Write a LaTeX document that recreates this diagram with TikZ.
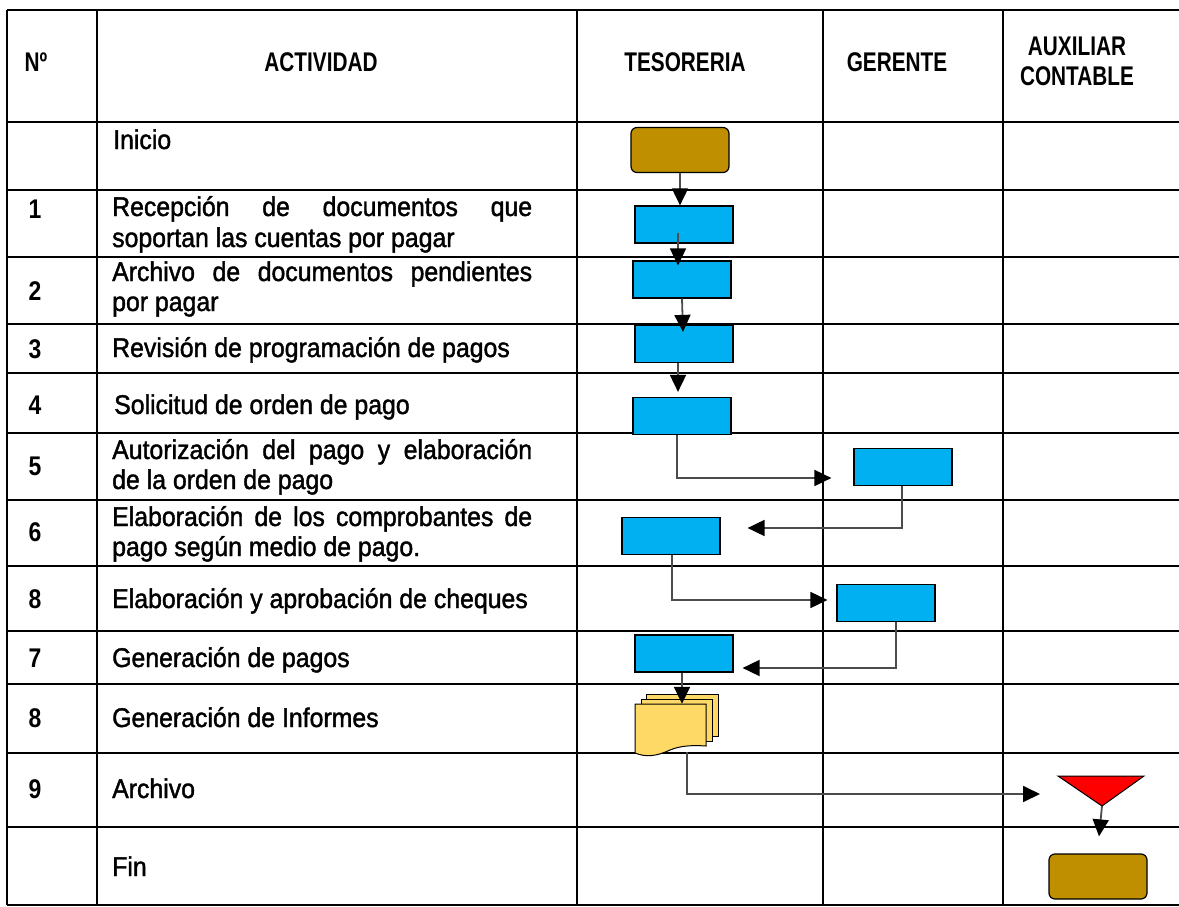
\documentclass[tikz,border=0pt]{standalone}
\usepackage{fontspec}
\setmainfont{Liberation Sans}
\newfontfamily\rowfont[FakeStretch=0.92,FakeBold=1.5]{Liberation Sans}
\newfontfamily\numfont[FakeStretch=0.85]{Liberation Sans}
\newfontfamily\headfont[FakeStretch=0.77]{Liberation Sans}
\usetikzlibrary{arrows.meta}
\definecolor{gold}{HTML}{BF8F00}
\definecolor{procblue}{HTML}{00B0F0}
\definecolor{docyellow}{HTML}{FFD966}
\definecolor{tred}{HTML}{FF0000}
\begin{document}
\begin{tikzpicture}[x=1pt,y=-1pt,
  grid/.style={line width=1.5pt, black},
  proc/.style={draw=black, line width=1.2pt, fill=procblue, minimum width=98pt, minimum height=37pt, inner sep=0pt, rectangle},
  term/.style={draw=black, line width=1.2pt, fill=gold, rounded corners=6pt, minimum width=98pt, minimum height=45pt, inner sep=0pt, rectangle},
  flow/.style={draw=black!70, line width=1.8pt, -{Triangle[length=17pt,width=16pt,color=black]}},
  hdr/.style={font=\headfont\bfseries\fontsize{27}{29}\selectfont, inner sep=0pt, anchor=base},
  txt/.style={font=\rowfont\fontsize{27}{31}\selectfont, inner sep=0pt, anchor=base west},
  num/.style={font=\numfont\bfseries\fontsize{27}{31}\selectfont, inner sep=0pt, anchor=base},
  sheet/.style={draw=black, line width=1pt, fill=docyellow}
]
\useasboundingbox (0,0) rectangle (1179,907);

% grid
\foreach \y in {10,122,190,257,324,373,433,500,566,631,684,753,827,905}
  \draw[grid] (7,\y) -- (1179,\y);
\foreach \x in {7,97,577,823,1003}
  \draw[grid] (\x,10) -- (\x,905);

% headers
\node[hdr] (hN) at (36,72) {Nº};
\node[hdr] (hAct) at (321,72) {ACTIVIDAD};
\node[hdr] (hTes) at (685,72) {TESORERIA};
\node[hdr] (hGer) at (897,72) {GERENTE};
\node[hdr] (hAux1) at (1077,56) {AUXILIAR};
\node[hdr] (hAux2) at (1077,85) {CONTABLE};

% numbers
\node[num] (n1) at (35,218) {1};
\node[num] (n2) at (35,300) {2};
\node[num] (n3) at (35,358) {3};
\node[num] (n4) at (35,414) {4};
\node[num] (n5) at (35,475) {5};
\node[num] (n6) at (35,541) {6};
\node[num] (n8a) at (35,608) {8};
\node[num] (n7) at (35,667) {7};
\node[num] (n8b) at (35,727) {8};
\node[num] (n9) at (35,798) {9};

% activities
\node[txt] (t0) at (113,149) {Inicio};
\node[txt] (t1a) at (112,216) {\makebox[420pt][s]{Recepción de documentos que}};
\node[txt] (t1b) at (112,247) {soportan las cuentas por pagar};
\node[txt] (t2a) at (112,281) {\makebox[420pt][s]{Archivo de documentos pendientes}};
\node[txt] (t2b) at (112,311) {por pagar};
\node[txt] (t3) at (112,357) {Revisión de programación de pagos};
\node[txt] (t4) at (114,414) {Solicitud de orden de pago};
\node[txt] (t5a) at (112,459) {\makebox[420pt][s]{Autorización del pago y elaboración}};
\node[txt] (t5b) at (112,489) {de la orden de pago};
\node[txt] (t6a) at (112,526) {\makebox[420pt][s]{Elaboración de los comprobantes de}};
\node[txt] (t6b) at (112,556) {pago según medio de pago.};
\node[txt] (t8a) at (112,608) {Elaboración y aprobación de cheques};
\node[txt] (t7) at (112,667) {Generación de pagos};
\node[txt] (t8b) at (112,727) {Generación de Informes};
\node[txt] (t9) at (112,798) {Archivo};
\node[txt] (tf) at (112,876) {Fin};

% flow shapes
\node[term] (inicio) at (680,150) {};
\node[proc] (p1) at (684,224.5) {};
\node[proc] (p2) at (682,279.5) {};
\node[proc] (p3) at (684,344) {};
\node[proc] (p4) at (682,416) {};
\node[proc] (p5) at (903,467) {};
\node[proc] (p6) at (671,536) {};
\node[proc] (p8) at (886,603) {};
\node[proc] (p7) at (684,653.5) {};
\node[term] (fin) at (1098,876.5) {};

% document stack
\draw[sheet] (646,694) rectangle (718,736);
\draw[sheet] (641,699) rectangle (712,741);
\draw[sheet] (635,704) -- (706,704) -- (706,746)
  .. controls (690,745) and (680,746) .. (670,750)
  .. controls (655,757) and (645,757) .. (635,753) -- cycle;
\node[minimum width=71pt, minimum height=44pt, inner sep=0pt] (docs) at (670.5,726) {};

% merge triangle
\coordinate (triL) at (1058,776);
\coordinate (triR) at (1144,776);
\coordinate (triA) at (1102,806);
\draw[line width=1pt, fill=tred] (triL) -- (triR) -- (triA) -- cycle;
\coordinate (triIn) at (1040,794);

% connectors
\draw[flow] (inicio.south) -- (inicio.south |- p1.north);
\draw[flow] ([xshift=-6pt,yshift=-8pt]p1.center) -- ([xshift=-4pt,yshift=-5pt]p2.north);
\draw[flow] (p2.south) -- ([xshift=-1pt,yshift=-7pt]p3.north);
\draw[flow] ([xshift=-6pt]p3.south) -- ([xshift=-4pt,yshift=5pt]p4.north);
\draw[flow] ([xshift=-5pt]p4.south) |- ([xshift=-22pt,yshift=-11pt]p5.west);
\draw[flow] ([xshift=-1pt]p5.south) |- ([xshift=27pt,yshift=8pt]p6.east);
\draw[flow] ([xshift=1pt]p6.south) |- ([xshift=-9pt,yshift=3pt]p8.west);
\draw[flow] ([xshift=10pt]p8.south) |- ([xshift=9pt,yshift=-14.5pt]p7.east);
\draw[flow] ([xshift=-2pt]p7.south) -- ([xshift=11.5pt]docs.north);
\draw[flow] ([xshift=16.5pt,yshift=-4pt]docs.south) |- (triIn);
\draw[flow] (triA) -- ([xshift=1pt,yshift=17pt]fin.north);
\end{tikzpicture}
\end{document}
